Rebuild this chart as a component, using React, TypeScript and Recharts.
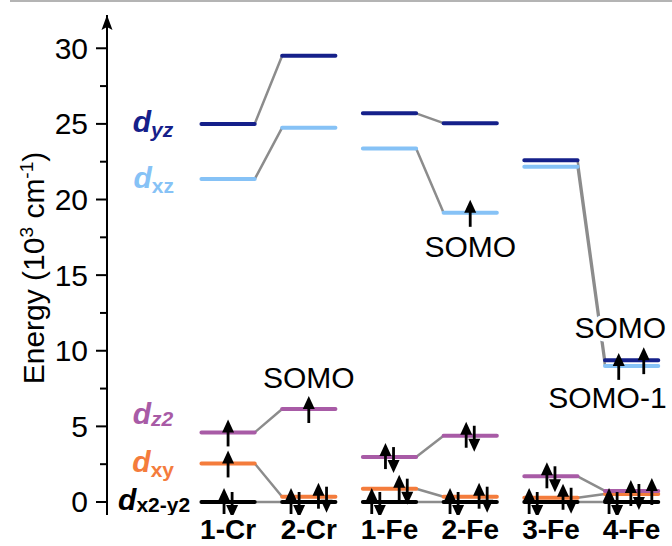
import React from 'react';
import { ComposedChart, Line, Scatter, XAxis, YAxis, ReferenceDot } from 'recharts';

const FONT = '"Liberation Sans", Arial, Helvetica, sans-serif';

const compounds = ['1-Cr', '2-Cr', '1-Fe', '2-Fe', '3-Fe', '4-Fe'];

// d-orbital energies (10^3 cm^-1), one value per compound
const dyz = [25.0, 29.5, 25.7, 25.05, 22.6, 9.38];
const dxz = [21.35, 24.75, 23.38, 19.12, 22.16, 9.0];
const dz2 = [4.6, 6.15, 2.97, 4.38, 1.7, 0.73];
const dxy = [2.55, 0.35, 0.88, 0.35, 0.28, 0.53];
const dx2y2 = [0, 0, 0, 0, 0, 0];

// electrons sitting in each orbital
const dyzOcc = [0, 0, 0, 0, 0, 1];
const dxzOcc = [0, 0, 0, 1, 0, 1];
const dz2Occ = [1, 1, 2, 2, 2, 1];
const dxyOcc = [1, 2, 2, 2, 2, 2];
const dx2y2Occ = [2, 2, 2, 2, 2, 2];

// compounds joined by grey correlation lines
const linked = [[0, 1], [2, 3], [4, 5]];

const yTicks = [0, 2.5, 5, 7.5, 10, 12.5, 15, 17.5, 20, 22.5, 25, 27.5, 30];
const xTicks = [0, 1, 2, 3, 4, 5];

const notes = [
  { compound: 1, orbital: 'dz2', text: 'SOMO' },
  { compound: 3, orbital: 'dxz', text: 'SOMO' },
  { compound: 5, orbital: 'dyz', text: 'SOMO' },
  { compound: 5, orbital: 'dxz', text: 'SOMO-1' },
];
// where each note sits relative to its level (x in category units, y in px)
const noteLayout = [
  { dx: 0, dy: -21 },
  { dx: 0, dy: 44 },
  { dx: -0.14, dy: -22 },
  { dx: -0.3, dy: 42 },
];

const HALF = 0.33; // half width of a level
const PAIR = 0.05; // spacing of paired spins

const orbitals = [
  { key: 'dyz', energy: dyz, occ: dyzOcc, color: '#15208a', sub: 'yz', subItalic: true, labelX: -0.68, labelDy: 8, subDy: 5, slot: [0, 0, 0, 0, 0, 0.15] },
  { key: 'dxz', energy: dxz, occ: dxzOcc, color: '#86c2f6', sub: 'xz', subItalic: false, labelX: -0.67, labelDy: 9, subDy: 5, slot: [0, 0, 0, 0, 0, -0.16] },
  { key: 'dz2', energy: dz2, occ: dz2Occ, color: '#a85ba6', sub: 'z2', subItalic: true, labelX: -0.68, labelDy: -8, subDy: 2, slot: [0, 0, 0, 0, 0, 0.25] },
  { key: 'dxy', energy: dxy, occ: dxyOcc, color: '#f47c3c', sub: 'xy', subItalic: false, labelX: -0.67, labelDy: 9, subDy: 5, slot: [0, 0.17, 0.17, 0.16, 0.2, 0.04] },
  { key: 'dx2y2', energy: dx2y2, occ: dx2y2Occ, color: '#000000', sub: 'x2-y2', subItalic: false, labelX: -0.47, labelDy: 8, subDy: 2, slot: [0, -0.17, -0.17, -0.2, -0.22, -0.23] },
];

const levelData = (e: number[]) =>
  e.flatMap((v, i) => [
    { x: i - HALF, y: v },
    { x: i + HALF, y: v },
    { x: i + 0.5, y: null },
  ]);

const linkData = (e: number[]) =>
  linked.flatMap(([a, b]) => [
    { x: a + HALF, y: e[a] },
    { x: b - HALF, y: e[b] },
    { x: b, y: null },
  ]);

const electrons = orbitals.flatMap((o) =>
  o.occ.flatMap((n, i) => {
    const x = i + o.slot[i];
    const y = o.energy[i];
    if (n === 1) return [{ x, y, spin: 'single' }];
    if (n === 2)
      return [
        { x: x - PAIR, y, spin: 'up' },
        { x: x + PAIR, y, spin: 'down' },
      ];
    return [];
  })
);

const noteData = notes.map((n, i) => {
  const o = orbitals.find((q) => q.key === n.orbital)!;
  return { x: n.compound + noteLayout[i].dx, y: o.energy[n.compound], text: n.text, dy: noteLayout[i].dy };
});

const labelData = orbitals.map((o) => ({
  x: o.labelX,
  y: o.energy[0],
  color: o.color,
  sub: o.sub,
  subItalic: o.subItalic,
  dy: o.labelDy,
  subDy: o.subDy,
}));

function Arrow(props: any) {
  const { cx, cy, payload } = props;
  let tip = cy - 13;
  let tail = cy + 14;
  if (payload.spin === 'up') {
    tip = cy - 14;
    tail = cy + 12;
  }
  if (payload.spin === 'down') {
    tip = cy + 16;
    tail = cy - 10;
  }
  const d = tip < tail ? 1 : -1;
  const base = tip + d * 13;
  return (
    <g>
      <line x1={cx} x2={cx} y1={tail} y2={base - d} stroke="#000" strokeWidth={2.8} />
      <path d={`M${cx},${tip} L${cx - 6},${base} L${cx + 6},${base} Z`} fill="#000" />
    </g>
  );
}

function Note(props: any) {
  const { cx, cy, payload } = props;
  return (
    <text
      x={cx}
      y={cy + payload.dy}
      textAnchor="middle"
      fontSize={30}
      fontFamily={FONT}
      fill="#000"
      stroke="#fff"
      strokeWidth={7}
      strokeLinejoin="round"
      paintOrder="stroke"
    >
      {payload.text}
    </text>
  );
}

function OrbitalLabel(props: any) {
  const { cx, cy, payload } = props;
  return (
    <text x={cx} y={cy + payload.dy} textAnchor="end" fill={payload.color} fontFamily={FONT} fontWeight="bold">
      <tspan fontSize={30} fontStyle="italic">d</tspan>
      <tspan fontSize={21} dy={payload.subDy} fontStyle={payload.subItalic ? 'italic' : 'normal'}>
        {payload.sub}
      </tspan>
    </text>
  );
}

function EnergyTick(props: any) {
  const { x, y, payload } = props;
  const major = payload.value % 5 === 0;
  return (
    <g>
      <line x1={x - (major ? 11 : 7)} x2={x} y1={y} y2={y} stroke="#000" strokeWidth={2} />
      {major && (
        <text x={x - 19} y={y} dy={10.5} textAnchor="end" fontSize={30} fontFamily={FONT} fill="#000">
          {payload.value}
        </text>
      )}
    </g>
  );
}

function CompoundTick(props: any) {
  const { x, y, payload } = props;
  return (
    <text x={x} y={y + 24} textAnchor="middle" fontSize={28} fontWeight="bold" fontFamily={FONT} fill="#000">
      {compounds[payload.value]}
    </text>
  );
}

function EnergyLabel() {
  return (
    <text x={44} y={268} transform="rotate(-90 44 268)" textAnchor="middle" fontSize={30} fontFamily={FONT} fill="#000">
      Energy (10
      <tspan dy={-11} fontSize={19}>3</tspan>
      <tspan dy={11}> cm</tspan>
      <tspan dy={-11} fontSize={19}>-1</tspan>
      <tspan dy={11}>)</tspan>
    </text>
  );
}

function AxisHead(props: any) {
  const { cx, cy } = props;
  return <path d={`M${cx},${cy} L${cx - 5.5},${cy + 15} L${cx},${cy + 12} L${cx + 5.5},${cy + 15} Z`} fill="#000" />;
}

export default function App() {
  return (
    <div style={{ position: 'absolute', left: 0, top: 0, width: 672, height: 546, background: '#fff' }}>
      <div style={{ position: 'absolute', left: 10, top: 0, width: 662, height: 2, background: '#b4b4b4' }} />
      <ComposedChart width={672} height={546} margin={{ top: 15, right: 0, bottom: 0, left: 0 }}>
        <XAxis
          type="number"
          dataKey="x"
          domain={[-1.5, 5.5]}
          ticks={xTicks}
          interval={0}
          allowDataOverflow
          axisLine={false}
          tickLine={false}
          tickSize={0}
          tickMargin={0}
          height={31}
          tick={(p: any) => <CompoundTick {...p} />}
        />
        <YAxis
          type="number"
          dataKey="y"
          domain={[-0.86, 32.2]}
          ticks={yTicks}
          interval={0}
          allowDataOverflow
          width={107}
          axisLine={{ stroke: '#000', strokeWidth: 2 }}
          tickLine={false}
          tickSize={0}
          tickMargin={0}
          tick={(p: any) => <EnergyTick {...p} />}
          label={{ content: () => <EnergyLabel /> }}
        />
        {orbitals.map((o) => (
          <Line
            key={`link-${o.key}`}
            data={linkData(o.energy)}
            dataKey="y"
            type="linear"
            stroke="#8c8c8c"
            strokeWidth={2.5}
            dot={false}
            activeDot={false}
            isAnimationActive={false}
          />
        ))}
        {orbitals
          .slice()
          .reverse()
          .map((o) => (
            <Line
              key={`level-${o.key}`}
              data={levelData(o.energy)}
              dataKey="y"
              type="linear"
              stroke={o.color}
              strokeWidth={4}
              strokeLinecap="round"
              dot={false}
              activeDot={false}
              isAnimationActive={false}
            />
          ))}
        <Scatter data={electrons} shape={(p: any) => <Arrow {...p} />} isAnimationActive={false} />
        <Scatter data={labelData} shape={(p: any) => <OrbitalLabel {...p} />} isAnimationActive={false} />
        <Scatter data={noteData} shape={(p: any) => <Note {...p} />} isAnimationActive={false} />
        <ReferenceDot x={-1.5} y={32.2} ifOverflow="visible" shape={(p: any) => <AxisHead {...p} />} />
      </ComposedChart>
    </div>
  );
}
